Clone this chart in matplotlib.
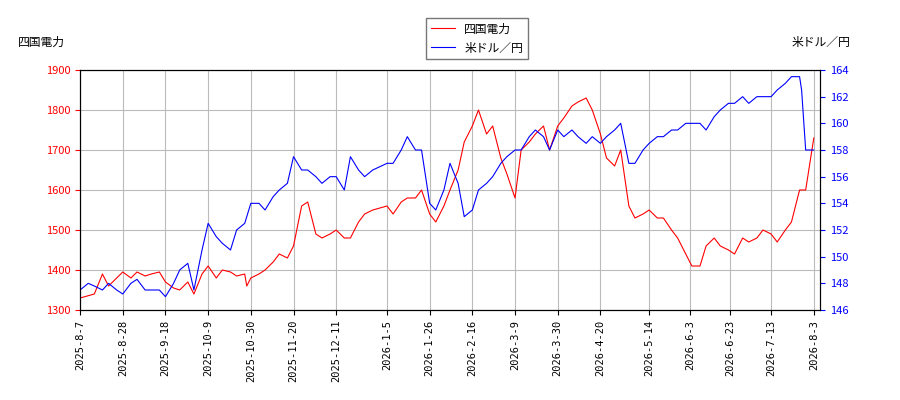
import matplotlib
matplotlib.use("Agg")
import matplotlib.pyplot as plt
import matplotlib.dates as mdates
import pandas as pd

plt.rcParams["font.family"] = ["Noto Sans CJK JP", "DejaVu Sans"]

# 四国電力 (left axis)
red_dates = ["2025-08-07", "2025-08-14", "2025-08-18", "2025-08-21", "2025-08-25", "2025-08-28", "2025-09-01", "2025-09-04",
             "2025-09-08", "2025-09-11", "2025-09-15", "2025-09-18", "2025-09-22", "2025-09-25", "2025-09-29", "2025-10-02",
             "2025-10-06", "2025-10-09", "2025-10-13", "2025-10-16", "2025-10-20", "2025-10-23", "2025-10-27", "2025-10-28",
             "2025-10-30", "2025-11-03", "2025-11-06", "2025-11-10", "2025-11-13", "2025-11-17", "2025-11-20", "2025-11-24",
             "2025-11-27", "2025-12-01", "2025-12-04", "2025-12-08", "2025-12-11", "2025-12-15", "2025-12-18", "2025-12-22",
             "2025-12-25", "2025-12-29", "2026-01-05", "2026-01-08", "2026-01-12", "2026-01-15", "2026-01-19", "2026-01-22",
             "2026-01-26", "2026-01-29", "2026-02-02", "2026-02-05", "2026-02-09", "2026-02-12", "2026-02-16", "2026-02-19",
             "2026-02-23", "2026-02-26", "2026-03-02", "2026-03-05", "2026-03-09", "2026-03-12", "2026-03-16", "2026-03-19",
             "2026-03-23", "2026-03-26", "2026-03-30", "2026-04-02", "2026-04-06", "2026-04-09", "2026-04-13", "2026-04-16",
             "2026-04-20", "2026-04-23", "2026-04-27", "2026-04-30", "2026-05-04", "2026-05-07", "2026-05-11", "2026-05-14",
             "2026-05-18", "2026-05-21", "2026-05-25", "2026-05-28", "2026-06-01", "2026-06-04", "2026-06-08", "2026-06-11",
             "2026-06-15", "2026-06-18", "2026-06-22", "2026-06-25", "2026-06-29", "2026-07-02", "2026-07-06", "2026-07-09",
             "2026-07-13", "2026-07-16", "2026-07-20", "2026-07-23", "2026-07-27", "2026-07-30", "2026-08-03"]
red_vals = [1330, 1340, 1390, 1360, 1380, 1395, 1380, 1395, 1385, 1390, 1395, 1370, 1355, 1350, 1370, 1340,
            1390, 1410, 1380, 1400, 1395, 1385, 1390, 1360, 1380, 1390, 1400, 1420, 1440, 1430, 1460, 1560,
            1570, 1490, 1480, 1490, 1500, 1480, 1480, 1520, 1540, 1550, 1560, 1540, 1570, 1580, 1580, 1600,
            1540, 1520, 1560, 1600, 1650, 1720, 1760, 1800, 1740, 1760, 1680, 1640, 1580, 1700, 1720, 1740,
            1760, 1700, 1760, 1780, 1810, 1820, 1830, 1800, 1740, 1680, 1660, 1700, 1560, 1530, 1540, 1550,
            1530, 1530, 1500, 1480, 1440, 1410, 1410, 1460, 1480, 1460, 1450, 1440, 1480, 1470, 1480, 1500,
            1490, 1470, 1500, 1520, 1600, 1600, 1730]

# 米ドル／円 (right axis)
blue_dates = ["2025-08-07", "2025-08-11", "2025-08-14", "2025-08-18", "2025-08-21", "2025-08-25", "2025-08-28", "2025-09-01",
              "2025-09-04", "2025-09-08", "2025-09-11", "2025-09-15", "2025-09-18", "2025-09-22", "2025-09-25", "2025-09-29",
              "2025-10-02", "2025-10-06", "2025-10-09", "2025-10-13", "2025-10-16", "2025-10-20", "2025-10-23", "2025-10-27",
              "2025-10-30", "2025-11-03", "2025-11-06", "2025-11-10", "2025-11-13", "2025-11-17", "2025-11-20", "2025-11-24",
              "2025-11-27", "2025-12-01", "2025-12-04", "2025-12-08", "2025-12-11", "2025-12-15", "2025-12-18", "2025-12-22",
              "2025-12-25", "2025-12-29", "2026-01-05", "2026-01-08", "2026-01-12", "2026-01-15", "2026-01-19", "2026-01-22",
              "2026-01-26", "2026-01-29", "2026-02-02", "2026-02-05", "2026-02-09", "2026-02-12", "2026-02-16", "2026-02-19",
              "2026-02-23", "2026-02-26", "2026-03-02", "2026-03-05", "2026-03-09", "2026-03-12", "2026-03-16", "2026-03-19",
              "2026-03-23", "2026-03-26", "2026-03-30", "2026-04-02", "2026-04-06", "2026-04-09", "2026-04-13", "2026-04-16",
              "2026-04-20", "2026-04-23", "2026-04-27", "2026-04-30", "2026-05-04", "2026-05-07", "2026-05-11", "2026-05-14",
              "2026-05-18", "2026-05-21", "2026-05-25", "2026-05-28", "2026-06-01", "2026-06-04", "2026-06-08", "2026-06-11",
              "2026-06-15", "2026-06-18", "2026-06-22", "2026-06-25", "2026-06-29", "2026-07-02", "2026-07-06", "2026-07-09",
              "2026-07-13", "2026-07-16", "2026-07-20", "2026-07-23", "2026-07-27", "2026-07-28", "2026-07-30", "2026-08-03"]
blue_vals = [147.5, 148, 147.8, 147.5, 148, 147.5, 147.2, 148, 148.3, 147.5, 147.5, 147.5, 147, 148, 149, 149.5,
             147.5, 150.5, 152.5, 151.5, 151, 150.5, 152, 152.5, 154, 154, 153.5, 154.5, 155, 155.5, 157.5, 156.5,
             156.5, 156, 155.5, 156, 156, 155, 157.5, 156.5, 156, 156.5, 157, 157, 158, 159, 158, 158,
             154, 153.5, 155, 157, 155.5, 153, 153.5, 155, 155.5, 156, 157, 157.5, 158, 158, 159, 159.5,
             159, 158, 159.5, 159, 159.5, 159, 158.5, 159, 158.5, 159, 159.5, 160, 157, 157, 158, 158.5,
             159, 159, 159.5, 159.5, 160, 160, 160, 159.5, 160.5, 161, 161.5, 161.5, 162, 161.5, 162, 162,
             162, 162.5, 163, 163.5, 163.5, 162.5, 158, 158]

tick_dates = ["2025-8-7", "2025-8-28", "2025-9-18", "2025-10-9", "2025-10-30", "2025-11-20", "2025-12-11",
              "2026-1-5", "2026-1-26", "2026-2-16", "2026-3-9", "2026-3-30", "2026-4-20", "2026-5-14",
              "2026-6-3", "2026-6-23", "2026-7-13", "2026-8-3"]

fig = plt.figure(figsize=(9, 4), dpi=100)
ax1 = fig.add_axes([0.089, 0.225, 0.822, 0.6])
ax2 = ax1.twinx()

l1, = ax1.plot(pd.to_datetime(red_dates), red_vals, color="red", linewidth=0.8, label="四国電力")
l2, = ax2.plot(pd.to_datetime(blue_dates), blue_vals, color="blue", linewidth=0.8, label="米ドル／円")

ax1.set_ylim(1300, 1900)
ax2.set_ylim(146, 164)
ax2.set_yticks(range(146, 165, 2))
ax1.set_xlim(pd.Timestamp("2025-08-07"), pd.Timestamp("2026-08-06"))
ax1.set_xticks(pd.to_datetime(tick_dates))
ax1.set_xticklabels(tick_dates, rotation=90, fontsize=7.5, family="DejaVu Sans Mono")
ax1.tick_params(axis="y", colors="red", labelsize=8)
ax2.tick_params(axis="y", colors="blue", labelsize=8)
ax1.grid(True, color="#bbbbbb", linewidth=0.8)

fig.text(0.02, 0.885, "四国電力", fontsize=8.5)
fig.text(0.945, 0.885, "米ドル／円", fontsize=8.5, ha="right")
fig.legend(handles=[l1, l2], loc="upper center", bbox_to_anchor=(0.53, 0.97), fontsize=8.5,
           fancybox=False, edgecolor="#555555")

fig.savefig("out.png", dpi=100)
